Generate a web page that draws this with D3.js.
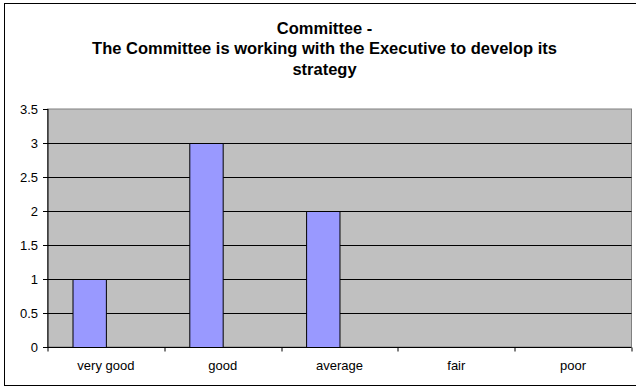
<!DOCTYPE html>
<html>
<head>
<meta charset="utf-8">
<script src="https://cdn.jsdelivr.net/npm/d3@7"></script>
<style>
  html, body { margin: 0; padding: 0; background: #fff; }
  svg { display: block; font-family: "Liberation Sans", Arial, sans-serif; }
</style>
</head>
<body>
<svg id="chart" width="636" height="387"></svg>
<script>
// Survey ratings and how many responses each received
const categories = ["very good", "good", "average", "fair", "poor"];
const seriesNames = ["Responses", "Series2"];
const responses = [1, 3, 2, 0, 0];
const series2 = [0, 0, 0, 0, 0];
const yTicks = [0, 0.5, 1, 1.5, 2, 2.5, 3, 3.5];
const titleLines = [
  "Committee -",
  "The Committee is working with the Executive to develop its",
  "strategy"
];

const W = 636, H = 387;
const margin = { top: 109, right: 4.5, bottom: 40, left: 47.5 };
const plotW = W - margin.left - margin.right;
const plotH = H - margin.top - margin.bottom;

const svg = d3.select("#chart");

// Outer chart frame (right edge runs past the window)
svg.append("rect")
  .attr("x", 4.5).attr("y", 3.5)
  .attr("width", W + 10).attr("height", H - 5)
  .attr("fill", "#fff").attr("stroke", "#000").attr("stroke-width", 1);

// Title
const title = svg.append("text")
  .attr("text-anchor", "middle")
  .attr("font-weight", "bold")
  .attr("font-size", 16.5)
  .attr("fill", "#000");
titleLines.forEach((line, i) => {
  title.append("tspan").attr("x", 324.5).attr("y", 33.5 + i * 20.5).text(line);
});

const g = svg.append("g").attr("transform", `translate(${margin.left},${margin.top})`);

const x0 = d3.scaleBand().domain(categories).range([0, plotW]).padding(0);
// Two series per category, 150% gap between clusters
const x1 = d3.scaleBand().domain(seriesNames).range([0, x0.bandwidth()])
  .paddingInner(0).paddingOuter(0.75);
const y = d3.scaleLinear().domain([0, 3.5]).range([plotH, 0]);

// Plot area background
g.append("rect")
  .attr("x", 0).attr("y", 0).attr("width", plotW).attr("height", plotH)
  .attr("fill", "#C0C0C0").attr("stroke", "#808080").attr("stroke-width", 1);

// Horizontal gridlines
g.append("g").selectAll("line")
  .data(yTicks.filter(d => d > 0 && d < 3.5))
  .join("line")
  .attr("x1", 0).attr("x2", plotW)
  .attr("y1", d => Math.round(y(d)) + 0.5).attr("y2", d => Math.round(y(d)) + 0.5)
  .attr("stroke", "#000").attr("stroke-width", 1);

// Bars
const rows = categories.map((c, i) => ({ cat: c, values: [responses[i], series2[i]] }));
g.append("g").selectAll("g")
  .data(rows)
  .join("g")
  .attr("transform", d => `translate(${x0(d.cat)},0)`)
  .selectAll("rect")
  .data(d => d.values.map((v, j) => ({ key: seriesNames[j], v })).filter(e => e.v > 0))
  .join("rect")
  .attr("x", e => Math.round(x1(e.key)) + 0.5)
  .attr("y", e => Math.round(y(e.v)) + 0.5)
  .attr("width", x1.bandwidth())
  .attr("height", e => y(0) - Math.round(y(e.v)))
  .attr("fill", "#9999FF").attr("stroke", "#000").attr("stroke-width", 1);

// Y axis
const yAxis = g.append("g")
  .attr("transform", "translate(0.5,0)")
  .call(d3.axisLeft(y).tickValues(yTicks).tickFormat(d3.format("")).tickSize(5).tickPadding(5));
yAxis.select(".domain").attr("stroke", "#000").attr("d", `M0,0V${plotH}`);
yAxis.selectAll(".tick line").attr("stroke", "#000");
yAxis.selectAll(".tick text").attr("font-size", 13).attr("fill", "#000")
  .attr("font-family", "'Liberation Sans', Arial, sans-serif");

// X axis: ticks at category boundaries, labels centred in each category
const xAxisG = g.append("g").attr("transform", `translate(0,${plotH + 0.5})`);
xAxisG.append("line")
  .attr("x1", 0).attr("x2", plotW).attr("y1", 0).attr("y2", 0)
  .attr("stroke", "#000");
xAxisG.selectAll("line.tick")
  .data(d3.range(categories.length + 1))
  .join("line")
  .attr("class", "tick")
  .attr("x1", i => Math.round(i * x0.step()) + 0.5)
  .attr("x2", i => Math.round(i * x0.step()) + 0.5)
  .attr("y1", 0).attr("y2", 4)
  .attr("stroke", "#000");
xAxisG.selectAll("text")
  .data(categories)
  .join("text")
  .attr("x", d => x0(d) + x0.bandwidth() / 2)
  .attr("y", 22.5)
  .attr("text-anchor", "middle")
  .attr("font-size", 13)
  .attr("fill", "#000")
  .text(d => d);
</script>
</body>
</html>
